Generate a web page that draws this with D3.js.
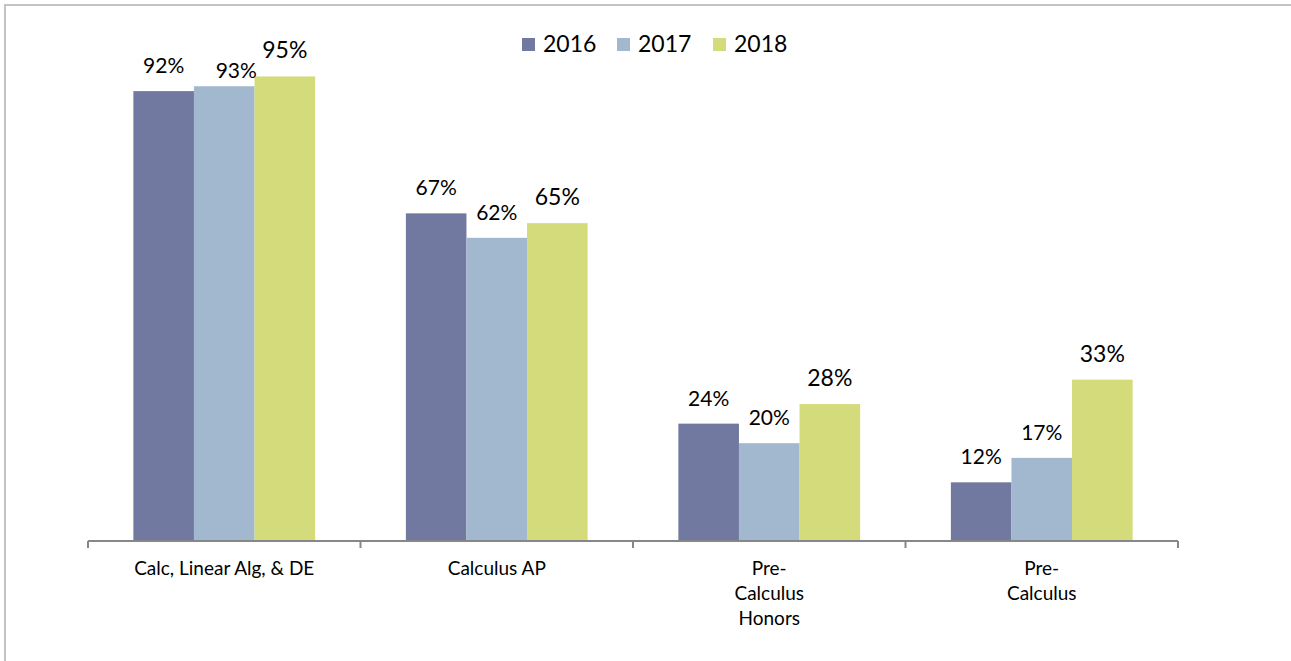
<!DOCTYPE html>
<html>
<head>
<meta charset="utf-8">
<script src="https://cdn.jsdelivr.net/npm/d3@7"></script>
<style>
  html, body { margin: 0; padding: 0; background: #fff; }
  svg { display: block; font-family: Lato, "Open Sans", sans-serif; }
</style>
</head>
<body>
<svg id="chart" width="1291" height="661"></svg>
<script>
// Course categories (each entry is a list of wrapped lines)
const categories = [
  ["Calc, Linear Alg, & DE"],
  ["Calculus AP"],
  ["Pre-", "Calculus", "Honors"],
  ["Pre-", "Calculus"]
];
const years = ["2016", "2017", "2018"];
// Percent per category, one array per year
const values2016 = [92, 67, 24, 12];
const values2017 = [93, 62, 20, 17];
const values2018 = [95, 65, 28, 33];
const seriesValues = [values2016, values2017, values2018];
const colors = ["#7179a1", "#a1b8ce", "#d4db7b"];

const svg = d3.select("#chart");
const W = 1291, H = 661;

// outer frame (only left and top edges fall inside the view)
svg.append("rect")
  .attr("x", 5).attr("y", 5)
  .attr("width", W + 20).attr("height", H + 20)
  .attr("fill", "none").attr("stroke", "#c3c3c3").attr("stroke-width", 2);

const x0 = d3.scaleBand()
  .domain(d3.range(categories.length))
  .range([88, 1178])
  .paddingInner(0).paddingOuter(0);

const groupWidth = x0.bandwidth() * 0.667;
const x1 = d3.scaleBand()
  .domain(years)
  .range([0, groupWidth]);

const y = d3.scaleLinear().domain([0, 100]).range([541, 52]);

// bars
const rows = [];
categories.forEach((c, i) => {
  years.forEach((yr, j) => {
    rows.push({ ci: i, year: yr, si: j, v: seriesValues[j][i] });
  });
});

const gx = i => x0(i) + (x0.bandwidth() - groupWidth) / 2;

svg.append("g").selectAll("rect")
  .data(rows).join("rect")
  .attr("x", d => gx(d.ci) + x1(d.year))
  .attr("y", d => y(d.v))
  .attr("width", x1.bandwidth())
  .attr("height", d => y(0) - y(d.v))
  .attr("fill", d => colors[d.si]);

// value labels; one label is nudged aside to clear its neighbour
const nudge = { "0-2017": [12, 10] };
svg.append("g").selectAll("text")
  .data(rows).join("text")
  .attr("x", d => gx(d.ci) + x1(d.year) + x1.bandwidth() / 2 + (nudge[d.ci + "-" + d.year] || [0, 0])[0])
  .attr("y", d => y(d.v) - 18 + (nudge[d.ci + "-" + d.year] || [0, 0])[1])
  .attr("text-anchor", "middle")
  .attr("font-size", d => d.si === 2 ? 23 : 21)
  .attr("fill", "#000")
  .text(d => d.v + "%");

// category axis: baseline plus boundary ticks between groups
const gAxis = svg.append("g").attr("transform", `translate(0,${y(0)})`);
gAxis.append("line")
  .attr("x1", x0.range()[0]).attr("x2", x0.range()[1])
  .attr("y1", 0).attr("y2", 0)
  .attr("stroke", "#878787").attr("stroke-width", 2);
const tickXs = d3.range(categories.length + 1).map(i => x0.range()[0] + i * x0.step());
gAxis.selectAll(".tick-mark")
  .data(tickXs).join("line")
  .attr("class", "tick-mark")
  .attr("x1", d => d).attr("x2", d => d)
  .attr("y1", 0).attr("y2", 7)
  .attr("stroke", "#878787").attr("stroke-width", 2);

const catG = svg.append("g").selectAll("text")
  .data(categories).join("text")
  .attr("text-anchor", "middle")
  .attr("font-size", 19)
  .attr("fill", "#000");
catG.each(function (lines, i) {
  const t = d3.select(this);
  lines.forEach((ln, k) => {
    t.append("tspan")
      .attr("x", x0(i) + x0.bandwidth() / 2)
      .attr("y", 575 + k * 25)
      .text(ln);
  });
});

// legend
const legend = svg.append("g");
const legendX = [522, 617, 713];
years.forEach((yr, j) => {
  legend.append("rect")
    .attr("x", legendX[j]).attr("y", 38)
    .attr("width", 13).attr("height", 13)
    .attr("fill", colors[j]);
  legend.append("text")
    .attr("x", legendX[j] + 21).attr("y", 52)
    .attr("font-size", 23)
    .attr("fill", "#000")
    .text(yr);
});
</script>
</body>
</html>
